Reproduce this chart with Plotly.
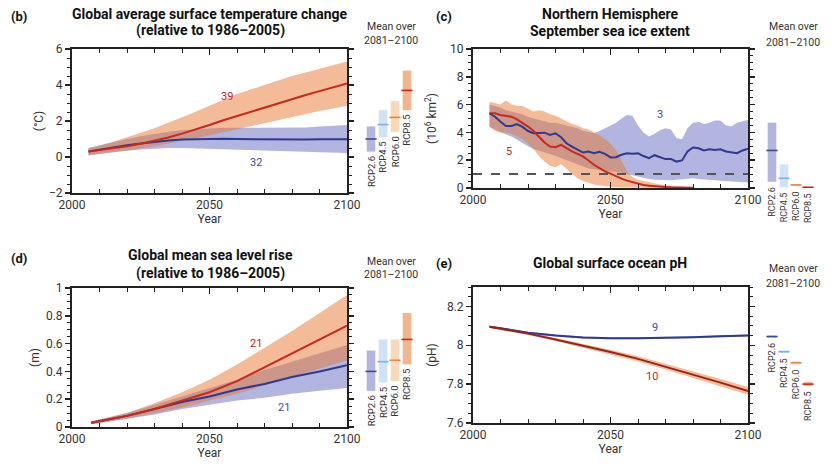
import plotly.graph_objects as go

# ---------------- DATA ----------------
scenarios = ["RCP2.6", "RCP4.5", "RCP6.0", "RCP8.5"]

# (b) Global average surface temperature change (°C)
temp_years = [2006, 2010, 2015, 2020, 2025, 2030, 2035, 2040, 2045, 2050,
              2055, 2060, 2065, 2070, 2075, 2080, 2085, 2090, 2095, 2100]
temp_rcp26_mean = [0.30, 0.40, 0.55, 0.65, 0.75, 0.85, 0.92, 0.97, 1.00, 1.00,
                   1.02, 1.00, 0.99, 1.00, 0.96, 0.98, 0.97, 0.99, 0.98, 0.98]
temp_rcp26_low = [0.10, 0.18, 0.28, 0.35, 0.42, 0.48, 0.50, 0.50, 0.48, 0.45,
                  0.44, 0.42, 0.40, 0.38, 0.35, 0.33, 0.30, 0.28, 0.25, 0.22]
temp_rcp26_high = [0.50, 0.65, 0.85, 1.00, 1.15, 1.28, 1.40, 1.48, 1.55, 1.58,
                   1.62, 1.62, 1.63, 1.62, 1.60, 1.62, 1.64, 1.70, 1.74, 1.78]
temp_rcp85_mean = [0.30, 0.38, 0.48, 0.60, 0.74, 0.90, 1.08, 1.30, 1.52, 1.78,
                   2.04, 2.28, 2.52, 2.76, 2.99, 3.22, 3.44, 3.66, 3.88, 4.09]
temp_rcp85_low = [0.10, 0.18, 0.26, 0.35, 0.47, 0.60, 0.74, 0.90, 1.05, 1.20,
                  1.38, 1.55, 1.72, 1.90, 2.07, 2.25, 2.40, 2.55, 2.70, 2.85]
temp_rcp85_high = [0.50, 0.62, 0.85, 1.10, 1.35, 1.60, 1.90, 2.20, 2.52, 2.85,
                   3.18, 3.50, 3.75, 4.00, 4.25, 4.50, 4.70, 4.90, 5.10, 5.30]
temp_side_mean = [1.0, 1.8, 2.2, 3.7]
temp_side_low = [0.3, 1.1, 1.4, 2.6]
temp_side_high = [1.7, 2.6, 3.1, 4.8]
temp_n_models = ["32", "39"]

# (c) Northern Hemisphere September sea ice extent (10^6 km^2)
ice_years = [2006, 2008, 2010, 2012, 2014, 2016, 2018, 2020, 2022, 2024,
             2026, 2028, 2030, 2032, 2034, 2036, 2038, 2040, 2042, 2044,
             2046, 2048, 2050, 2052, 2054, 2056, 2058, 2060, 2062, 2064,
             2066, 2068, 2070, 2072, 2074, 2076, 2078, 2080, 2082, 2084,
             2086, 2088, 2090, 2092, 2094, 2096, 2098, 2100]
ice_rcp26_mean = [5.37, 5.13, 4.77, 4.46, 4.46, 4.60, 4.40, 4.10, 3.94, 3.98,
                  3.98, 3.82, 3.94, 3.65, 3.22, 2.98, 2.74, 2.55, 2.63, 2.50,
                  2.60, 2.46, 2.20, 2.22, 2.39, 2.50, 2.46, 2.50, 2.30, 2.15,
                  2.36, 2.22, 2.08, 2.08, 1.90, 1.98, 2.63, 2.91, 2.86, 2.70,
                  2.79, 2.74, 2.79, 2.63, 2.55, 2.50, 2.70, 2.82]
ice_rcp26_low = [4.40, 4.20, 4.00, 3.85, 3.70, 3.45, 3.20, 3.00, 2.80, 2.70,
                 2.60, 2.45, 2.30, 2.15, 2.00, 1.85, 1.70, 1.55, 1.40, 1.35,
                 1.30, 1.30, 1.25, 1.20, 1.10, 1.00, 0.90, 0.80, 0.70, 0.65,
                 0.60, 0.58, 0.55, 0.55, 0.60, 0.62, 0.68, 0.70, 0.65, 0.60,
                 0.58, 0.55, 0.52, 0.50, 0.48, 0.45, 0.42, 0.40]
ice_rcp26_high = [6.00, 5.90, 5.80, 5.60, 5.50, 5.40, 5.30, 5.10, 5.00, 4.90,
                  4.80, 4.70, 4.70, 4.60, 4.50, 4.40, 4.30, 4.10, 4.00, 3.95,
                  4.10, 4.30, 4.45, 4.70, 5.00, 5.25, 5.20, 4.50, 4.00, 3.70,
                  3.90, 4.15, 4.30, 4.20, 3.60, 3.50, 4.30, 4.70, 4.75, 4.60,
                  4.70, 4.85, 4.85, 4.50, 4.45, 4.70, 4.80, 4.90]
ice85_years = [2006, 2008, 2010, 2012, 2014, 2016, 2018, 2020, 2022, 2024,
               2026, 2028, 2030, 2032, 2034, 2036, 2038, 2040, 2042, 2044,
               2046, 2048, 2050, 2052, 2054, 2056, 2058, 2060, 2062, 2064,
               2066, 2068, 2070, 2072, 2074, 2076, 2078, 2080]
ice_rcp85_mean = [5.37, 5.37, 5.25, 5.18, 5.13, 4.94, 4.70, 4.42, 4.10, 3.70,
                  3.27, 2.98, 2.94, 3.10, 2.86, 2.63, 2.46, 2.27, 1.98, 1.67,
                  1.43, 1.19, 1.03, 0.84, 0.67, 0.53, 0.41, 0.31, 0.21, 0.17,
                  0.12, 0.10, 0.07, 0.05, 0.04, 0.03, 0.02, 0.01]
ice_rcp85_low = [4.40, 4.10, 4.00, 4.00, 3.90, 3.70, 3.50, 3.20, 2.80, 2.30,
                 1.90, 1.60, 1.50, 1.70, 1.40, 1.00, 0.70, 0.50, 0.35, 0.25,
                 0.18, 0.12, 0.08, 0.05, 0.03, 0.02, 0.01, 0.00, 0.00, 0.00,
                 0.00, 0.00, 0.00, 0.00, 0.00, 0.00, 0.00, 0.00]
ice_rcp85_high = [6.20, 6.10, 6.00, 6.30, 6.00, 5.90, 5.90, 5.70, 5.50, 5.60,
                  5.50, 5.30, 5.20, 5.00, 4.80, 4.60, 4.50, 4.30, 4.20, 4.00,
                  3.80, 3.50, 3.20, 2.70, 2.00, 1.20, 0.80, 0.60, 0.50, 0.40,
                  0.32, 0.25, 0.20, 0.15, 0.10, 0.07, 0.05, 0.03]
ice_side_mean = [2.7, 0.7, 0.22, 0.05]
ice_side_low = [0.45, 0.05, 0.15, 0.0]
ice_side_high = [4.7, 1.7, 0.3, 0.1]
ice_threshold = 1.0
ice_n_models = ["3", "5"]

# (d) Global mean sea level rise (m)
sea_years = [2007, 2020, 2030, 2040, 2050, 2060, 2070, 2080, 2090, 2100]
sea_rcp26_mean = [0.03, 0.08, 0.13, 0.18, 0.22, 0.27, 0.31, 0.36, 0.40, 0.445]
sea_rcp26_low = [0.02, 0.06, 0.09, 0.13, 0.16, 0.19, 0.21, 0.24, 0.26, 0.28]
sea_rcp26_high = [0.04, 0.10, 0.16, 0.22, 0.28, 0.34, 0.41, 0.47, 0.53, 0.59]
sea_rcp85_mean = [0.03, 0.08, 0.13, 0.19, 0.25, 0.33, 0.43, 0.53, 0.63, 0.73]
sea_rcp85_low = [0.02, 0.06, 0.10, 0.14, 0.19, 0.24, 0.30, 0.36, 0.42, 0.48]
sea_rcp85_high = [0.04, 0.10, 0.17, 0.25, 0.34, 0.45, 0.57, 0.69, 0.82, 0.95]
sea_side_mean = [0.40, 0.47, 0.48, 0.63]
sea_side_low = [0.26, 0.32, 0.33, 0.45]
sea_side_high = [0.55, 0.63, 0.63, 0.82]
sea_n_models = ["21", "21"]

# (e) Global surface ocean pH
ph_years = [2006, 2010, 2020, 2030, 2040, 2050, 2060, 2070, 2080, 2090, 2100]
ph_rcp26_mean = [8.095, 8.088, 8.065, 8.050, 8.040, 8.036, 8.036, 8.038, 8.042, 8.047, 8.050]
ph_rcp26_low = [8.090, 8.083, 8.060, 8.045, 8.035, 8.031, 8.031, 8.033, 8.037, 8.042, 8.045]
ph_rcp26_high = [8.100, 8.093, 8.070, 8.055, 8.045, 8.041, 8.041, 8.043, 8.047, 8.052, 8.055]
ph_rcp85_mean = [8.095, 8.086, 8.060, 8.030, 7.998, 7.965, 7.930, 7.890, 7.850, 7.808, 7.765]
ph_rcp85_low = [8.090, 8.080, 8.053, 8.022, 7.988, 7.953, 7.916, 7.875, 7.833, 7.790, 7.745]
ph_rcp85_high = [8.100, 8.092, 8.067, 8.038, 8.008, 7.977, 7.944, 7.905, 7.867, 7.826, 7.785]
ph_side_mean = [8.045, 7.967, 7.910, 7.800]
ph_side_low = [8.040, 7.960, 7.902, 7.790]
ph_side_high = [8.050, 7.974, 7.918, 7.812]
ph_n_models = ["9", "10"]

# ---------------- STYLE ----------------
W, H = 835, 468
FONT = "Roboto, 'Liberation Sans', sans-serif"
BLUE_LINE = "#2e3a8f"
RED_LINE = "#c8281e"
BLUE_FILL = "rgba(83,91,187,0.45)"
RED_FILL = "rgba(232,120,50,0.5)"
SIDE_FILL = ["rgba(83,91,187,0.45)", "rgba(150,190,235,0.45)",
             "rgba(240,170,100,0.45)", "rgba(232,120,50,0.55)"]
SIDE_MEAN = ["#3c4a9a", "#7fb2e5", "#e08a40", "#c8281e"]


def px(x):
    return x / W


def py(y):
    return 1 - y / H


panels = {
    "b": dict(x=(72, 347), y=(49, 193), side=(365, 413), standoff=3),
    "c": dict(x=(473, 748), y=(49, 188), side=(766, 814), standoff=11),
    "d": dict(x=(72, 347), y=(288, 427), side=(365, 413), standoff=4),
    "e": dict(x=(473, 748), y=(287, 423), side=(766, 814), standoff=8),
}

fig = go.Figure()
layout = {}
annotations = []

axis_idx = {"b": (1, 2), "c": (3, 4), "d": (5, 6), "e": (7, 8)}


def ref(kind, i):
    return kind + ("" if i == 1 else str(i))


def setup_panel(key, yrange, yminor, ytitle, ytickvals):
    p = panels[key]
    mi, si = axis_idx[key]
    dom_y = [py(p["y"][1]), py(p["y"][0])]
    layout[ref("xaxis", mi)] = dict(
        domain=[px(p["x"][0]), px(p["x"][1])], anchor=ref("y", mi),
        range=[2000, 2100], tickvals=[2000, 2050, 2100], automargin=False,
        ticks="inside", ticklen=6, tickwidth=1.5, tickcolor="#222",
        minor=dict(dtick=10, tick0=2000, ticks="inside", ticklen=4, tickcolor="#222", tickwidth=1),
        showline=True, linewidth=2, linecolor="#222", mirror="allticks",
        showgrid=False, zeroline=False,
        tickfont=dict(size=12, color="#333", family=FONT),
        title=dict(text="Year", font=dict(size=12, color="#333", family=FONT), standoff=2),
    )
    layout[ref("yaxis", mi)] = dict(
        domain=dom_y, anchor=ref("x", mi), range=yrange, tickvals=ytickvals,
        automargin=False,
        ticks="outside", ticklen=5, tickwidth=1.5, tickcolor="#222",
        minor=dict(dtick=yminor, ticks="outside", ticklen=3, tickcolor="#222", tickwidth=1),
        showline=True, linewidth=2, linecolor="#222", mirror="allticks",
        showgrid=False, zeroline=False,
        tickfont=dict(size=12, color="#333", family=FONT),
        title=dict(text=ytitle, font=dict(size=12, color="#333", family=FONT),
                   standoff=p["standoff"]),
    )
    layout[ref("xaxis", si)] = dict(
        domain=[px(p["side"][0]), px(p["side"][1])], anchor=ref("y", si),
        range=[-0.5, 3.5], visible=False, automargin=False)
    layout[ref("yaxis", si)] = dict(
        domain=dom_y, anchor=ref("x", si), range=yrange, visible=False, automargin=False)


def band(key, years, low, high, color):
    mi, _ = axis_idx[key]
    fig.add_trace(go.Scatter(x=years, y=high, mode="lines", line=dict(width=0),
                             xaxis=ref("x", mi), yaxis=ref("y", mi),
                             hoverinfo="skip", showlegend=False))
    fig.add_trace(go.Scatter(x=years, y=low, mode="lines", line=dict(width=0),
                             fill="tonexty", fillcolor=color,
                             xaxis=ref("x", mi), yaxis=ref("y", mi),
                             hoverinfo="skip", showlegend=False))


def line(key, years, vals, color, width=2):
    mi, _ = axis_idx[key]
    fig.add_trace(go.Scatter(x=years, y=vals, mode="lines",
                             line=dict(color=color, width=width),
                             xaxis=ref("x", mi), yaxis=ref("y", mi), showlegend=False))


def side(key, means, lows, highs, label_font=9.5):
    _, si = axis_idx[key]
    xs = list(range(len(scenarios)))
    fig.add_trace(go.Bar(x=xs, y=[h - l for h, l in zip(highs, lows)], base=lows,
                         width=0.72, marker=dict(color=SIDE_FILL, line=dict(width=0)),
                         textposition="none",
                         xaxis=ref("x", si), yaxis=ref("y", si), showlegend=False))
    fig.add_trace(go.Scatter(x=xs, y=means, mode="markers",
                             marker=dict(symbol="line-ew", size=8,
                                         line=dict(color=SIDE_MEAN, width=1.6)),
                             xaxis=ref("x", si), yaxis=ref("y", si), showlegend=False))
    for i, s in enumerate(scenarios):
        annotations.append(dict(x=i, y=lows[i], xref=ref("x", si), yref=ref("y", si),
                                text=s, showarrow=False, textangle=-90,
                                xanchor="center", yanchor="top", yshift=-3,
                                font=dict(size=label_font, color="#333", family=FONT)))


def text(x, y, t, size=12, color="#111", bold=False):
    annotations.append(dict(x=px(x), y=py(y), xref="paper", yref="paper",
                            text=("<b>%s</b>" % t) if bold else t, showarrow=False,
                            xanchor="center", yanchor="middle",
                            font=dict(size=size, color=color, family=FONT)))


def data_text(key, x, y, t, color):
    mi, _ = axis_idx[key]
    annotations.append(dict(x=x, y=y, xref=ref("x", mi), yref=ref("y", mi), text=t,
                            showarrow=False, font=dict(size=11, color=color, family=FONT)))


# ---- panel b ----
setup_panel("b", [-2, 6], 0.5, "(°C)", [-2, 0, 2, 4, 6])
band("b", temp_years, temp_rcp26_low, temp_rcp26_high, BLUE_FILL)
band("b", temp_years, temp_rcp85_low, temp_rcp85_high, RED_FILL)
line("b", temp_years, temp_rcp26_mean, BLUE_LINE)
line("b", temp_years, temp_rcp85_mean, RED_LINE)
side("b", temp_side_mean, temp_side_low, temp_side_high)
data_text("b", 2056.5, 3.35, temp_n_models[1], "#b8232b")
data_text("b", 2067, -0.3, temp_n_models[0], "#3a4aa0")

# ---- panel c ----
setup_panel("c", [0, 10], 0.5, "(10<sup>6</sup> km<sup>2</sup>)", [0, 2, 4, 6, 8, 10])
band("c", ice_years, ice_rcp26_low, ice_rcp26_high, BLUE_FILL)
band("c", ice85_years, ice_rcp85_low, ice_rcp85_high, RED_FILL)
line("c", ice_years, ice_rcp26_mean, BLUE_LINE)
line("c", ice85_years, ice_rcp85_mean, RED_LINE)
mi_c = axis_idx["c"][0]
fig.add_trace(go.Scatter(x=[2000, 2100], y=[ice_threshold, ice_threshold], mode="lines",
                         line=dict(color="#555", width=2, dash="dash"),
                         xaxis=ref("x", mi_c), yaxis=ref("y", mi_c), showlegend=False))
side("c", ice_side_mean, ice_side_low, ice_side_high, label_font=9)
data_text("c", 2068, 5.3, ice_n_models[0], "#3a4aa0")
data_text("c", 2013, 2.6, ice_n_models[1], "#c8281e")

# ---- panel d ----
setup_panel("d", [0, 1], 0.05, "(m)", [0, 0.2, 0.4, 0.6, 0.8, 1])
band("d", sea_years, sea_rcp26_low, sea_rcp26_high, BLUE_FILL)
band("d", sea_years, sea_rcp85_low, sea_rcp85_high, RED_FILL)
line("d", sea_years, sea_rcp26_mean, BLUE_LINE)
line("d", sea_years, sea_rcp85_mean, RED_LINE)
side("d", sea_side_mean, sea_side_low, sea_side_high)
data_text("d", 2067, 0.60, sea_n_models[1], "#b8232b")
data_text("d", 2077, 0.14, sea_n_models[0], "#3a4aa0")

# ---- panel e ----
setup_panel("e", [7.6, 8.3], 0.05, "(pH)", [7.6, 7.8, 8, 8.2])
band("e", ph_years, ph_rcp26_low, ph_rcp26_high, BLUE_FILL)
band("e", ph_years, ph_rcp85_low, ph_rcp85_high, RED_FILL)
line("e", ph_years, ph_rcp26_mean, BLUE_LINE)
line("e", ph_years, ph_rcp85_mean, "#9a2418")
side("e", ph_side_mean, ph_side_low, ph_side_high, label_font=9)
data_text("e", 2066, 8.09, ph_n_models[0], "#3a4aa0")
data_text("e", 2065, 7.84, ph_n_models[1], "#c0282d")

# ---- titles, panel letters, "Mean over" ----
text(210, 14, "Global average surface temperature change", size=14, bold=True)
text(210, 31, "(relative to 1986–2005)", size=14, bold=True)
text(19, 17, "(b)", size=13, bold=True)
text(391, 26, "Mean over", size=10.5, color="#333")
text(391, 40, "2081–2100", size=10.5, color="#333")

text(610, 14, "Northern Hemisphere", size=14, bold=True)
text(610, 31, "September sea ice extent", size=14, bold=True)
text(444, 17, "(c)", size=13, bold=True)
text(793, 26, "Mean over", size=10.5, color="#333")
text(793, 42, "2081–2100", size=10.5, color="#333")

text(210, 255, "Global mean sea level rise", size=14, bold=True)
text(210, 273, "(relative to 1986–2005)", size=14, bold=True)
text(19, 258, "(d)", size=13, bold=True)
text(391, 261, "Mean over", size=10.5, color="#333")
text(391, 274, "2081–2100", size=10.5, color="#333")

text(610, 263, "Global surface ocean pH", size=14, bold=True)
text(444, 263, "(e)", size=13, bold=True)
text(793, 268, "Mean over", size=10.5, color="#333")
text(793, 283, "2081–2100", size=10.5, color="#333")

fig.update_layout(
    width=W, height=H, margin=dict(l=0, r=0, t=0, b=0, autoexpand=False),
    paper_bgcolor="white", plot_bgcolor="rgba(0,0,0,0)",
    showlegend=False, barmode="overlay", hovermode=False,
    annotations=annotations,
    font=dict(family=FONT, color="#333"),
    **layout,
)

fig.write_html("out.html",
               config={"displayModeBar": False, "staticPlot": True},
               post_script="document.body.style.margin='0px';"
                           "document.body.style.overflow='hidden';")
